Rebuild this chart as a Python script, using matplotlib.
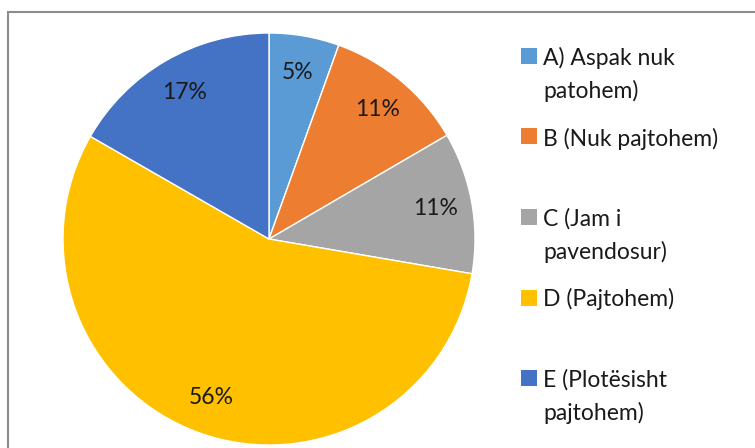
import matplotlib
matplotlib.use("Agg")
import matplotlib.pyplot as plt
from matplotlib.patches import Rectangle
import numpy as np

# Survey answers (shares in %)
labels = ["A) Aspak nuk\npatohem)", "B (Nuk pajtohem)", "C (Jam i\npavendosur)",
          "D (Pajtohem)", "E (Plotësisht\npajtohem)"]
shares = [5.5, 11.1, 11.1, 55.6, 16.7]
pct_labels = ["5%", "11%", "11%", "56%", "17%"]
colors = ["#5B9BD5", "#ED7D31", "#A5A5A5", "#FFC000", "#4472C4"]

plt.rcParams["font.family"] = ["Lato", "DejaVu Sans"]

W, H = 755, 448
fig = plt.figure(figsize=(W / 100, H / 100), dpi=100)

# pie centred at (269, 239) px, radius 206 px
cx, cy, r = 269, 239, 206
ax = fig.add_axes([(cx - r) / W, (H - cy - r) / H, 2 * r / W, 2 * r / H])
wedges, _ = ax.pie(shares, colors=colors, startangle=90, counterclock=False,
                   radius=1, wedgeprops=dict(edgecolor="white", linewidth=1))
ax.set_xlim(-1, 1)
ax.set_ylim(-1, 1)
ax.axis("off")

for w, txt in zip(wedges, pct_labels):
    mid = np.deg2rad((w.theta1 + w.theta2) / 2)
    ax.text(0.82 * np.cos(mid), 0.82 * np.sin(mid), txt, ha="center", va="center",
            fontsize=16.5, color="#1a1a1a")

# chart border (only left and top visible)
fig.patches.append(Rectangle((8 / W, -0.1), 1.2, 1.1 - 12 / H, transform=fig.transFigure,
                             fill=False, edgecolor="#8c8c8c", linewidth=1.5))

# legend drawn as Excel lays it out: one slot of ~80 px per entry
for i, (lab, col) in enumerate(zip(labels, colors)):
    base = 65 + 80.5 * i
    fig.patches.append(Rectangle((521 / W, 1 - (base - 1) / H), 16 / W, 16 / H,
                                 transform=fig.transFigure, facecolor=col, edgecolor="none"))
    for j, line in enumerate(lab.split("\n")):
        fig.text(543 / W, 1 - (base + 33 * j) / H, line, ha="left", va="baseline",
                 fontsize=16.5, color="#1a1a1a")

fig.savefig("out.png", dpi=100)
